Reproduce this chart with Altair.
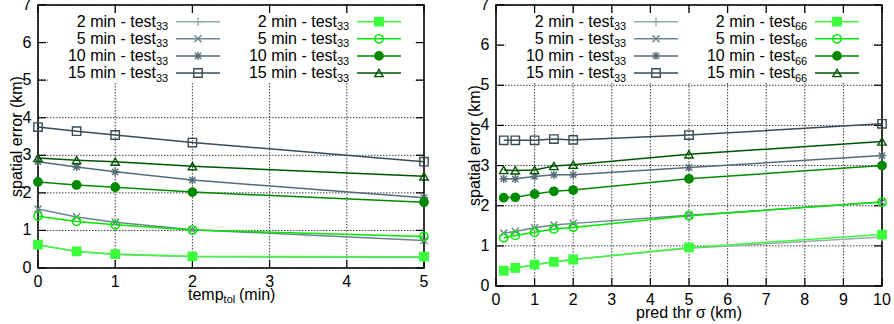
import altair as alt
import pandas as pd

FONT = "Liberation Sans"

# ---------------- data ----------------
left_x = [0, 0.5, 1, 2, 5]
left_t33_2 = [0.62, 0.44, 0.36, 0.30, 0.28]
left_t33_5 = [1.57, 1.36, 1.22, 1.02, 0.73]
left_t33_10 = [2.83, 2.69, 2.56, 2.34, 1.87]
left_t33_15 = [3.75, 3.64, 3.54, 3.34, 2.83]
left_g_2 = [0.62, 0.44, 0.37, 0.31, 0.30]
left_g_5 = [1.38, 1.24, 1.15, 1.01, 0.84]
left_g_10 = [2.29, 2.21, 2.15, 2.02, 1.75]
left_g_15 = [2.93, 2.87, 2.83, 2.71, 2.44]

right_x = [0.2, 0.5, 1, 1.5, 2, 5, 10]
right_t33_2 = [0.38, 0.44, 0.53, 0.61, 0.66, 0.94, 1.22]
right_t33_5 = [1.32, 1.36, 1.45, 1.52, 1.56, 1.76, 2.09]
right_t33_10 = [2.67, 2.67, 2.73, 2.77, 2.77, 2.95, 3.25]
right_t33_15 = [3.63, 3.63, 3.63, 3.66, 3.64, 3.76, 4.04]
right_t66_2 = [0.38, 0.45, 0.53, 0.60, 0.66, 0.96, 1.28]
right_t66_5 = [1.20, 1.26, 1.34, 1.42, 1.46, 1.75, 2.09]
right_t66_10 = [2.20, 2.21, 2.29, 2.36, 2.39, 2.67, 3.00]
right_t66_15 = [2.89, 2.88, 2.89, 2.99, 3.02, 3.28, 3.60]

series_keys = ["a2", "a5", "a10", "a15", "b2", "b5", "b10", "b15"]
legend_main = ["2 min - test", "5 min - test", "10 min - test", "15 min - test"] * 2
left_subs = ["33"] * 8
right_subs = ["33"] * 4 + ["66"] * 4

y_ticks = [0, 1, 2, 3, 4, 5, 6, 7]
left_x_ticks = [0, 1, 2, 3, 4, 5]
right_x_ticks = [0, 1, 2, 3, 4, 5, 6, 7, 8, 9, 10]
y_title = "spatial error (km)"
right_x_title = "pred thr σ (km)"
left_x_title = ["temp", "tol", "(min)"]

# ---------------- style ----------------
colors = ["#9aabab", "#6b8590", "#566b78", "#3a4b55",
          "#3cff3c", "#00e800", "#008a00", "#005500"]
PLUS = "M-1,0L1,0M0,-1L0,1"
XS = "M-0.85,-0.85L0.85,0.85M-0.85,0.85L0.85,-0.85"
STAR = "M-1,0L1,0M0,-1L0,1M-0.75,-0.75L0.75,0.75M-0.75,0.75L0.75,-0.75"
shapes = [PLUS, XS, STAR, "square", "square", "circle", "circle", "triangle-up"]
fills = ["transparent", "transparent", "transparent", "transparent",
         colors[4], "transparent", colors[6], "transparent"]

stroke_scale = alt.Scale(domain=series_keys, range=colors)
fill_scale = alt.Scale(domain=series_keys, range=fills)
shape_scale = alt.Scale(domain=series_keys, range=shapes)
TXT = dict(font=FONT, color="black")


def panel(xs, ys_list, subs, W, H, xdomain, xticks, xtitle):
    rows = []
    for key, ys in zip(series_keys, ys_list):
        for xv, yv in zip(xs, ys):
            rows.append({"x": xv, "y": yv, "key": key})
    df = pd.DataFrame(rows)

    xscale = alt.Scale(domain=xdomain, nice=False, zero=False)
    yscale = alt.Scale(domain=[0, 7], nice=False, zero=False)

    one = pd.DataFrame({"a": [0]})
    xt = pd.DataFrame({"v": xticks})
    yt = pd.DataFrame({"v": y_ticks})
    XV = alt.X("v:Q", scale=xscale, axis=None)
    YV = alt.Y("v:Q", scale=yscale, axis=None)

    grid_style = dict(color="black", strokeWidth=1, strokeDash=[1.5, 1.5], opacity=0.75)
    grid = [
        alt.Chart(xt).mark_rule(**grid_style).encode(x=XV, y=alt.value(0), y2=alt.value(H)),
        alt.Chart(yt).mark_rule(**grid_style).encode(y=YV, x=alt.value(0), x2=alt.value(W)),
    ]

    bg = alt.Chart(one).mark_rect(color="white").encode(
        x=alt.value(10), x2=alt.value(W - 10), y=alt.value(8), y2=alt.value(78))

    tick_style = dict(color="black", strokeWidth=1.2)
    ticks = [
        alt.Chart(xt).mark_rule(**tick_style).encode(x=XV, y=alt.value(H), y2=alt.value(H - 8)),
        alt.Chart(xt).mark_rule(**tick_style).encode(x=XV, y=alt.value(0), y2=alt.value(8)),
        alt.Chart(yt).mark_rule(**tick_style).encode(y=YV, x=alt.value(0), x2=alt.value(8)),
        alt.Chart(yt).mark_rule(**tick_style).encode(y=YV, x=alt.value(W - 8), x2=alt.value(W)),
    ]

    labels = [
        alt.Chart(xt).mark_text(align="center", baseline="top", fontSize=16, **TXT).encode(
            x=XV, y=alt.value(H + 6), text=alt.Text("v:Q", format="d")),
        alt.Chart(yt).mark_text(align="right", baseline="middle", fontSize=16, **TXT).encode(
            y=YV, x=alt.value(-6.5), text=alt.Text("v:Q", format="d")),
        alt.Chart(one).mark_text(text=y_title, angle=270, align="center",
                                 baseline="alphabetic", fontSize=16, **TXT).encode(
            x=alt.value(-16), y=alt.value(H / 2)),
    ]

    lines = alt.Chart(df).mark_line(strokeWidth=1.5).encode(
        x=alt.X("x:Q", scale=xscale, axis=None),
        y=alt.Y("y:Q", scale=yscale, axis=None),
        stroke=alt.Stroke("key:N", scale=stroke_scale, legend=None),
    )
    points = alt.Chart(df).mark_point(filled=True, size=70, strokeWidth=1.4, opacity=1).encode(
        x=alt.X("x:Q", scale=xscale, axis=None),
        y=alt.Y("y:Q", scale=yscale, axis=None),
        stroke=alt.Stroke("key:N", scale=stroke_scale, legend=None),
        fill=alt.Fill("key:N", scale=fill_scale, legend=None),
        shape=alt.Shape("key:N", scale=shape_scale, legend=None),
    )

    # legend (layout positions in pixels)
    leg = []
    for i, key in enumerate(series_keys):
        col, row = i // 4, i % 4
        py = 16.7 + 17.1 * row
        leg.append({
            "key": key, "main": legend_main[i], "sub": subs[i],
            "tx": 118 + 181 * col, "ty": py + 5.3, "sy": py + 8.6,
            "lx1": 138 + 181 * col, "lx2": 182 + 181 * col,
            "mx": 160 + 181 * col, "py": py,
        })
    ldf = pd.DataFrame(leg)
    lbase = alt.Chart(ldf)
    leg_lines = lbase.mark_rule(strokeWidth=1.5).encode(
        x=alt.X("lx1:Q", scale=None, axis=None), x2="lx2:Q",
        y=alt.Y("py:Q", scale=None, axis=None),
        stroke=alt.Stroke("key:N", scale=stroke_scale, legend=None))
    leg_pts = lbase.mark_point(filled=True, size=70, strokeWidth=1.4, opacity=1).encode(
        x=alt.X("mx:Q", scale=None, axis=None),
        y=alt.Y("py:Q", scale=None, axis=None),
        stroke=alt.Stroke("key:N", scale=stroke_scale, legend=None),
        fill=alt.Fill("key:N", scale=fill_scale, legend=None),
        shape=alt.Shape("key:N", scale=shape_scale, legend=None))
    leg_txt = lbase.mark_text(align="right", baseline="alphabetic", fontSize=16, **TXT).encode(
        x=alt.X("tx:Q", scale=None, axis=None),
        y=alt.Y("ty:Q", scale=None, axis=None), text="main:N")
    leg_sub = lbase.mark_text(align="left", baseline="alphabetic", fontSize=11, **TXT).encode(
        x=alt.X("tx:Q", scale=None, axis=None),
        y=alt.Y("sy:Q", scale=None, axis=None), text="sub:N")

    layers = grid + [bg] + ticks + labels + [lines, points, leg_lines, leg_pts, leg_txt, leg_sub]

    if xtitle is None:
        t1 = alt.Chart(one).mark_text(text=left_x_title[0], align="left", baseline="alphabetic",
                                      fontSize=16, **TXT).encode(
            x=alt.value(150), y=alt.value(H + 32))
        t2 = alt.Chart(one).mark_text(text=left_x_title[1], align="left", baseline="alphabetic",
                                      fontSize=11, **TXT).encode(
            x=alt.value(185.6), y=alt.value(H + 35))
        t3 = alt.Chart(one).mark_text(text=left_x_title[2], align="left", baseline="alphabetic",
                                      fontSize=16, **TXT).encode(
            x=alt.value(201), y=alt.value(H + 32))
        layers += [t1, t2, t3]
    else:
        layers.append(alt.Chart(one).mark_text(text=xtitle, align="center", baseline="alphabetic",
                                               fontSize=16, **TXT).encode(
            x=alt.value(W / 2), y=alt.value(H + 32)))

    return alt.layer(*layers).properties(width=W, height=H)


left = panel(left_x, [left_t33_2, left_t33_5, left_t33_10, left_t33_15,
                      left_g_2, left_g_5, left_g_10, left_g_15],
             left_subs, 386, 263, [0, 5], left_x_ticks, None)
right = panel(right_x, [right_t33_2, right_t33_5, right_t33_10, right_t33_15,
                        right_t66_2, right_t66_5, right_t66_10, right_t66_15],
              right_subs, 386, 281, [0, 10], right_x_ticks, right_x_title)

chart = alt.hconcat(left, right, spacing=72, bounds="flush").properties(
    padding={"left": 38, "top": 5, "right": 856, "bottom": 319},
    autosize=alt.AutoSizeParams(type="none"),
).configure_view(stroke="black", strokeWidth=1.5)

chart.save("out.html", embed_options={"renderer": "svg", "actions": False})
